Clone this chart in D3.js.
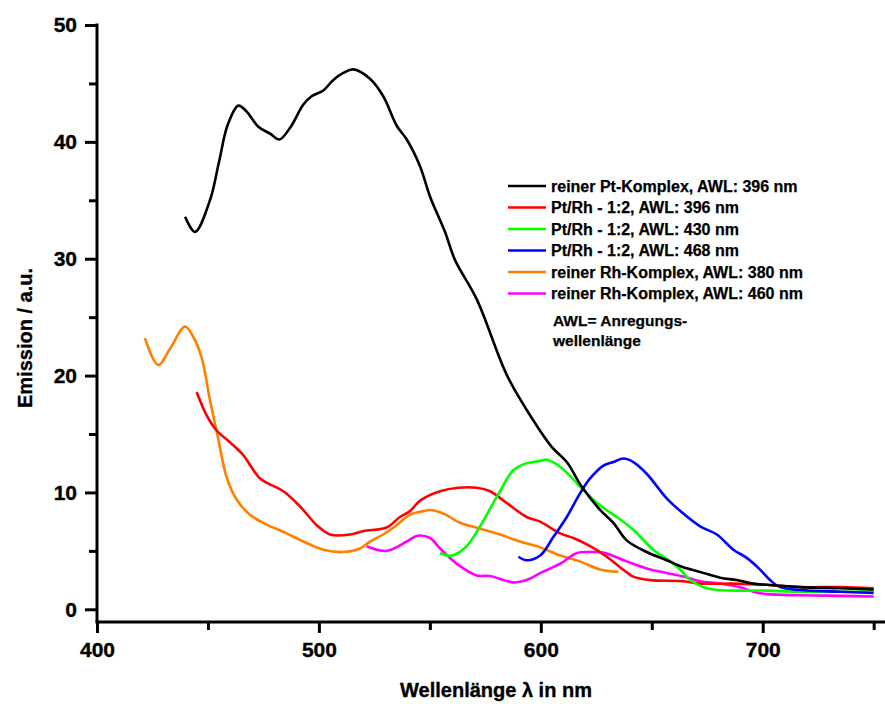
<!DOCTYPE html>
<html>
<head>
<meta charset="utf-8">
<script src="https://cdn.jsdelivr.net/npm/d3@7"></script>
<style>
  html, body { margin: 0; padding: 0; background: #fff; }
  svg { display: block; font-family: "Liberation Sans", Arial, sans-serif; font-weight: bold; }
  text { stroke: #000; stroke-width: 0.35px; }
</style>
</head>
<body>
<svg id="chart" width="885" height="704"></svg>
<script>
// ---- data (wavelength in nm, emission in a.u.) ----
const ptPure396 = [[439.7,33.6],[444.2,32.3],[450.9,35.0],[455.0,38.3],[458.8,41.4],[463.7,43.1],[467.4,42.6],[472.7,41.3],[478,40.7],[482.2,40.2],[487,41.2],[493,43.2],[496.7,43.9],[502,44.4],[506.5,45.3],[511,45.9],[515.5,46.2],[523,45.4],[529,43.9],[535,41.4],[539.6,40.2],[545.6,37.9],[550.1,35.3],[556.8,32.3],[561.3,29.9],[571.2,26.5],[584.8,20.0],[596.5,16.2],[604.9,13.9],[611.7,12.6],[618.4,10.5],[626.7,8.5],[632.7,7.4],[638.7,5.9],[647.7,4.9],[656.7,4.2],[664.2,3.6],[671.8,3.2],[680.8,2.7],[688.3,2.5],[695.8,2.2],[701.8,2.1],[716.8,1.9],[735,1.8],[750,1.7]];
const ptRh396 = [[444.9,18.6],[449.4,16.6],[453.9,15.3],[459.9,14.3],[465.9,13.2],[473.5,11.2],[484,10.1],[491.5,8.8],[499,7.2],[505,6.4],[514,6.4],[520,6.7],[530.5,7.0],[536.5,7.9],[541,8.4],[545.6,9.3],[554.6,10.1],[562.8,10.4],[571.1,10.4],[577.1,10.1],[584.6,9.1],[593.6,7.9],[599.7,7.5],[608.7,6.5],[614.7,6.1],[622.2,5.4],[629.7,4.5],[635.7,3.6],[641.7,2.8],[649.2,2.5],[664.2,2.4],[671.8,2.2],[686.8,2.2],[701.8,2.1],[716.8,1.9],[735,1.9],[750,1.8]];
const ptRh430 = [[554.6,4.8],[559.9,4.6],[566.6,5.4],[572.6,7.1],[580.1,9.6],[587.6,11.9],[592.1,12.4],[599.7,12.7],[602.7,12.8],[608.7,12.2],[614.7,11.1],[619.2,10.2],[626.7,8.9],[634.2,7.9],[641.7,6.8],[650.7,5.1],[658.3,4.1],[662.8,3.4],[667.3,2.5],[673.3,1.9],[679.3,1.65],[701.8,1.6],[716.8,1.5],[750,1.55]];
const ptRh468 = [[589.9,4.5],[593.6,4.2],[599.7,4.6],[605.7,6.2],[611.7,7.9],[617.6,9.9],[622.2,11.2],[628.2,12.3],[632.7,12.6],[637.2,12.9],[641.7,12.6],[647.7,11.6],[656.7,9.5],[664.2,8.2],[671.8,7.1],[679.3,6.4],[686.8,5.1],[692.8,4.4],[698.8,3.4],[703.3,2.5],[707.8,1.9],[716.8,1.65],[735,1.5],[750,1.4]];
const rhPure380 = [[421.6,23.2],[427.6,20.9],[432.9,22.3],[439.7,24.2],[443.4,23.3],[447.2,21.5],[450.9,17.9],[454.7,14.5],[458.4,11.3],[462.9,9.4],[468.9,8.1],[474.9,7.4],[485.4,6.5],[493,5.8],[502,5.1],[511,4.9],[518.5,5.2],[523,5.8],[529,6.4],[535,7.2],[541,8.1],[547.1,8.4],[550,8.5],[556,8.2],[563.6,7.4],[572.6,6.9],[581.6,6.4],[590.6,5.8],[599.7,5.3],[608.7,4.6],[617.6,4.1],[626.7,3.4],[634.9,3.2]];
const rhPure460 = [[521.5,5.4],[530.5,5.0],[539.6,5.8],[544.4,6.3],[550.1,6.1],[554.6,5.2],[562.8,3.8],[571.1,2.9],[577.1,2.85],[587.6,2.3],[593.6,2.5],[599.7,3.1],[608.7,3.9],[616.1,4.8],[622.2,4.9],[628.2,4.85],[638.7,4.1],[647.7,3.5],[656.7,3.1],[664.2,2.8],[671.8,2.4],[680.8,2.2],[691.3,1.8],[695.8,1.5],[701.8,1.3],[716.8,1.2],[735,1.15],[750,1.1]];

const seriesNames = ["reiner Pt-Komplex, AWL: 396 nm","Pt/Rh - 1:2, AWL: 396 nm","Pt/Rh - 1:2, AWL: 430 nm","Pt/Rh - 1:2, AWL: 468 nm","reiner Rh-Komplex, AWL: 380 nm","reiner Rh-Komplex, AWL: 460 nm"];
const seriesData = [ptPure396, ptRh396, ptRh430, ptRh468, rhPure380, rhPure460];
const seriesColors = ["#000000","#ff0000","#00ff00","#0000ff","#ff8000","#ff00ff"];
// draw order (back to front)
const drawOrder = [4, 5, 1, 2, 3, 0];

const xTicks = [400, 500, 600, 700];
const xMinorTicks = [450, 550, 650, 750];
const yTicks = [0, 10, 20, 30, 40, 50];
const yMinorTicks = [5, 15, 25, 35, 45];
const xTitle = "Wellenlänge λ in nm";
const yTitle = "Emission / a.u.";
const noteLines = ["AWL= Anregungs-", "wellenlänge"];

// ---- layout ----
const svg = d3.select("#chart");
const x = d3.scaleLinear().domain([400, 755.1]).range([97, 885]);
const y = d3.scaleLinear().domain([0, 50]).range([609.3, 25]);
const xAxisY = 622;
const yAxisX = 97;

// curves
const line = d3.line().x(d => x(d[0])).y(d => y(d[1])).curve(d3.curveCatmullRom.alpha(0.5));
const g = svg.append("g");
drawOrder.forEach(i => {
  g.append("path").datum(seriesData[i])
    .attr("d", line)
    .attr("fill", "none")
    .attr("stroke", seriesColors[i])
    .attr("stroke-width", 2.6)
    .attr("stroke-linejoin", "round")
    .attr("stroke-linecap", "butt");
});

// x axis
const xAxisG = svg.append("g").attr("transform", `translate(0,${xAxisY})`)
  .call(d3.axisBottom(x).tickValues(xTicks).tickFormat(d3.format("d")).tickSize(11).tickPadding(9));
const xMinorG = svg.append("g").attr("transform", `translate(0,${xAxisY})`)
  .call(d3.axisBottom(x).tickValues(xMinorTicks).tickFormat("").tickSize(8));
// y axis
const yAxisG = svg.append("g").attr("transform", `translate(${yAxisX},0)`)
  .call(d3.axisLeft(y).tickValues(yTicks).tickFormat(d3.format("d")).tickSize(12).tickPadding(8));
const yMinorG = svg.append("g").attr("transform", `translate(${yAxisX},0)`)
  .call(d3.axisLeft(y).tickValues(yMinorTicks).tickFormat("").tickSize(8));

[xAxisG, xMinorG, yAxisG, yMinorG].forEach(a => {
  a.select(".domain").remove();
  a.selectAll(".tick line").attr("stroke", "#000").attr("stroke-width", 3);
  a.selectAll(".tick text").attr("fill", "#000")
    .style("font-family", '"Liberation Sans", Arial, sans-serif')
    .style("font-weight", "bold").style("font-size", "21px");
});

// axis lines
svg.append("line").attr("x1", yAxisX).attr("x2", yAxisX).attr("y1", y(50) - 1.5).attr("y2", xAxisY)
  .attr("stroke", "#000").attr("stroke-width", 3);
svg.append("line").attr("x1", yAxisX - 1.5).attr("x2", 885).attr("y1", xAxisY).attr("y2", xAxisY)
  .attr("stroke", "#000").attr("stroke-width", 3);

// axis titles
svg.append("text").attr("x", 496).attr("y", 697).attr("text-anchor", "middle")
  .style("font-size", "20px").text(xTitle);
svg.append("text").attr("transform", "translate(32,338) rotate(-90)").attr("text-anchor", "middle")
  .style("font-size", "20px").text(yTitle);

// legend
const leg = svg.append("g");
seriesNames.forEach((name, i) => {
  const yy = 186 + i * 21.5;
  leg.append("line").attr("x1", 508).attr("x2", 546).attr("y1", yy).attr("y2", yy)
    .attr("stroke", seriesColors[i]).attr("stroke-width", 2.6);
  leg.append("text").attr("x", 551).attr("y", yy + 5.8).style("font-size", "16px").style("stroke-width", "0.25px").text(name);
});
noteLines.forEach((t, i) => {
  leg.append("text").attr("x", 553).attr("y", 326 + i * 20).style("font-size", "15.5px").style("stroke-width", "0.25px").text(t);
});
</script>
</body>
</html>
